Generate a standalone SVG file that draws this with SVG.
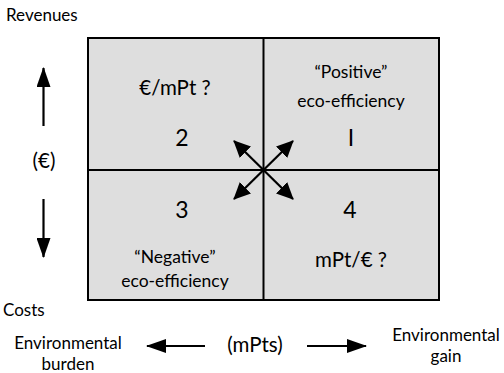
<svg xmlns="http://www.w3.org/2000/svg" width="504" height="373" viewBox="0 0 504 373">
  <style>
    text { font-family: Lato, "Open Sans", sans-serif; fill: #000; }
    .lbl { font-size: 17px; }
    .big { font-size: 20.5px; }
    .num { font-size: 23px; }
    .mid { font-size: 17.5px; }
    .q { fill: #dedede; stroke: #000; stroke-width: 2; }
    .div { stroke: #000; stroke-width: 2; fill: none; }
    .arr { stroke: #000; stroke-width: 2.2; fill: none; }
    .diag { marker-end: url(#headD); }
    .axis { marker-end: url(#headL); }
  </style>
  <defs>
    <marker id="headL" markerWidth="20" markerHeight="14" refX="19" refY="7" orient="auto" markerUnits="userSpaceOnUse" viewBox="0 0 20 14">
      <path d="M0,0 L20,7 L0,14 Z" fill="#000"/>
    </marker>
    <marker id="headD" markerWidth="17" markerHeight="16" refX="16" refY="8" orient="auto" markerUnits="userSpaceOnUse" viewBox="0 0 17 16">
      <path d="M0,0 L17,8 L0,16 Z" fill="#000"/>
    </marker>
  </defs>

  <!-- quadrant matrix -->
  <g id="matrix">
    <rect class="q" x="88" y="38" width="351" height="262"/>
    <line class="div" x1="263.5" y1="38" x2="263.5" y2="300"/>
    <line class="div" x1="88" y1="170" x2="439" y2="170"/>
  </g>

  <g id="q1">
    <text class="mid" x="351" y="78" text-anchor="middle">“Positive”</text>
    <text class="mid" x="351" y="107" text-anchor="middle">eco-efficiency</text>
    <text class="num" x="351" y="146" text-anchor="middle">I</text>
  </g>
  <g id="q2">
    <text class="big" x="175" y="95" text-anchor="middle">€/mPt ?</text>
    <text class="num" x="182" y="146" text-anchor="middle">2</text>
  </g>
  <g id="q3">
    <text class="num" x="182" y="218" text-anchor="middle">3</text>
    <text class="mid" x="175" y="263" text-anchor="middle">“Negative”</text>
    <text class="mid" x="175" y="287" text-anchor="middle">eco-efficiency</text>
  </g>
  <g id="q4">
    <text class="num" x="350" y="218" text-anchor="middle">4</text>
    <text class="big" x="351" y="267" text-anchor="middle">mPt/€ ?</text>
  </g>

  <!-- axis labels -->
  <g id="axis-labels">
    <text class="lbl" x="6" y="21">Revenues</text>
    <text class="big" x="44" y="168" text-anchor="middle">(€)</text>
    <text class="lbl" x="3" y="316">Costs</text>
    <text class="lbl" x="68" y="349" text-anchor="middle">Environmental</text>
    <text class="lbl" x="68" y="370" text-anchor="middle">burden</text>
    <text class="big" x="255" y="352" text-anchor="middle">(mPts)</text>
    <text class="lbl" x="446" y="341" text-anchor="middle">Environmental</text>
    <text class="lbl" x="446" y="362" text-anchor="middle">gain</text>
  </g>

  <!-- connectors -->
  <g id="connectors">
    <line class="arr diag" x1="263.5" y1="170" x2="234" y2="141"/>
    <line class="arr diag" x1="263.5" y1="170" x2="293" y2="141"/>
    <line class="arr diag" x1="263.5" y1="170" x2="234" y2="199"/>
    <line class="arr diag" x1="263.5" y1="170" x2="293" y2="199"/>
    <line class="arr axis" x1="43.5" y1="126" x2="43.5" y2="68"/>
    <line class="arr axis" x1="43.5" y1="199" x2="43.5" y2="257"/>
    <line class="arr axis" x1="205" y1="346" x2="147" y2="346"/>
    <line class="arr axis" x1="307" y1="346" x2="366" y2="346"/>
  </g>
</svg>
